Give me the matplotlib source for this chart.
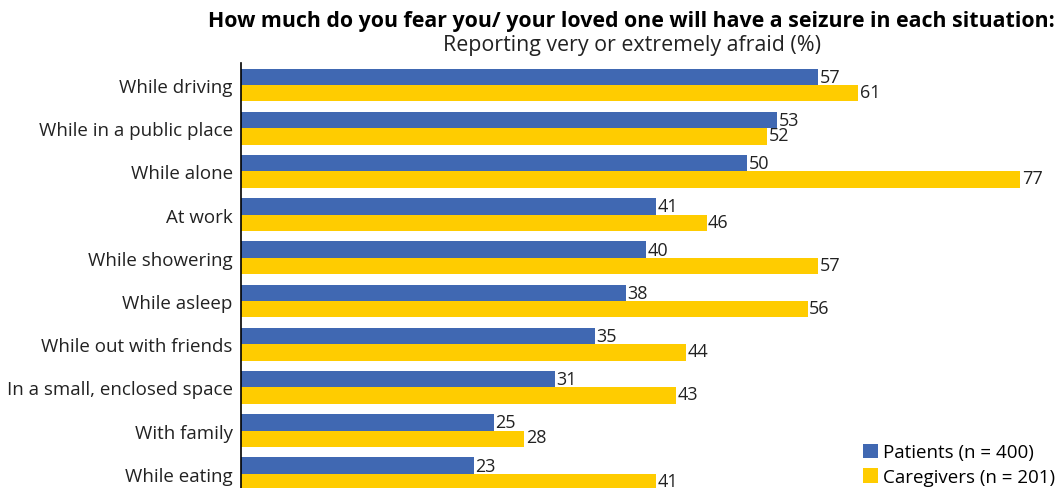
import matplotlib.pyplot as plt
import numpy as np

plt.rcParams["font.family"] = ["Open Sans", "DejaVu Sans"]

# Data
situations = [
    "While driving",
    "While in a public place",
    "While alone",
    "At work",
    "While showering",
    "While asleep",
    "While out with friends",
    "In a small, enclosed space",
    "With family",
    "While eating",
]
patients = [57, 53, 50, 41, 40, 38, 35, 31, 25, 23]
caregivers = [61, 52, 77, 46, 57, 56, 44, 43, 28, 41]

blue = "#4068B2"
yellow = "#FFCC00"

fig = plt.figure(figsize=(10.6, 4.89), dpi=100)
ax = fig.add_axes([241 / 1060, 0, 800 / 1060, 425 / 489])

y = np.arange(len(situations))
h = 0.38
ax.barh(y - h / 2, patients, height=h, color=blue, label="Patients (n = 400)")
ax.barh(y + h / 2, caregivers, height=h, color=yellow, label="Caregivers (n = 201)")

# value labels just right of each bar
for yi, p, c in zip(y, patients, caregivers):
    ax.text(p + 0.15, yi - h / 2, str(p), va="center", ha="left", fontsize=13, color="#222222")
    ax.text(c + 0.15, yi + h / 2 - 0.03, str(c), va="center", ha="left", fontsize=13, color="#222222")

ax.set_xlim(0, 79.05)
ax.set_ylim(9.33, -0.51)
ax.set_yticks(y)
ax.set_yticklabels(situations, fontsize=13.5, color="#222222")
ax.tick_params(axis="y", length=0, pad=6)
ax.set_xticks([])
for side in ["top", "right", "bottom"]:
    ax.spines[side].set_visible(False)
ax.spines["left"].set_color("black")
ax.spines["left"].set_linewidth(1.2)

fig.text(0.596, 0.957, "How much do you fear you/ your loved one will have a seizure in each situation:",
         ha="center", va="center", fontsize=15.4, fontweight="bold", color="black")
fig.text(0.596, 0.907, "Reporting very or extremely afraid (%)",
         ha="center", va="center", fontsize=15.4, color="#222222")

ax.legend(loc="lower right", bbox_to_anchor=(1.039, -0.035), frameon=False, fontsize=13.5,
          handlelength=0.8, handleheight=0.8, handletextpad=0.3, labelspacing=0.35)

fig.savefig("out.png", dpi=100)
